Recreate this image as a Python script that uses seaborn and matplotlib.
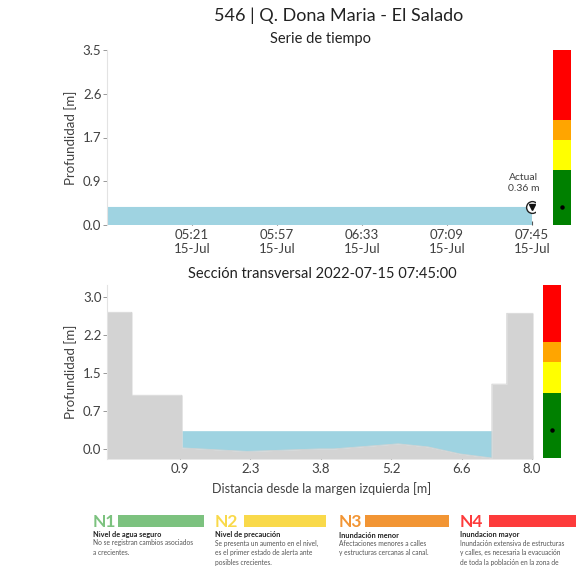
"""Station depth dashboard: time series + cross section."""

import numpy as np
import pandas as pd
import matplotlib
matplotlib.use("Agg")
import matplotlib.pyplot as plt
import matplotlib.dates as mdates
from matplotlib.patches import Rectangle
import seaborn as sns

# --- data ---------------------------------------------------------------
station_title = "546 | Q. Dona Maria - El Salado"
series_title = "Serie de tiempo"
section_title = "Sección transversal 2022-07-15 07:45:00"

times = ["2022-07-15 04:45", "2022-07-15 05:21", "2022-07-15 05:57",
         "2022-07-15 06:33", "2022-07-15 07:09", "2022-07-15 07:45"]
depths = [0.36, 0.36, 0.36, 0.36, 0.36, 0.36]
current_depth = 0.36

top_yticks = [0.0, 0.875, 1.75, 2.625, 3.5]
top_ylabels = ["0.0", "0.9", "1.7", "2.6", "3.5"]

sec_yticks = [0.0, 0.75, 1.5, 2.25, 3.0]
sec_ylabels = ["0.0", "0.7", "1.5", "2.2", "3.0"]
sec_xticks = [0.9, 2.32, 3.74, 5.16, 6.58, 8.0]
sec_xlabels = ["0.9", "2.3", "3.8", "5.2", "6.6", "8.0"]

# terrain profile (distance from left bank, elevation)
bank_x = [-0.57, -0.07, -0.07, 0.94, 0.94, 2.25, 3.72, 4.0, 5.3, 5.9,
          6.55, 7.19, 7.19, 7.49, 7.49, 8.02]
bank_z = [2.70, 2.70, 1.06, 1.06, 0.02, -0.05, 0.0, 0.0, 0.10, 0.04,
          -0.10, -0.18, 1.28, 1.28, 2.68, 2.68]
channel_left, channel_right = 0.94, 7.19

# alert thresholds
level_limits = [1.1, 1.7, 2.1]
level_colors = ["#008000", "#ffff00", "#ffa500", "#ff0000"]

legend_codes = ["N1", "N2", "N3", "N4"]
legend_colors = ["#7cc27f", "#f9d94a", "#f29534", "#fd3b3b"]
legend_titles = ["Nivel de agua seguro", "Nivel de precaución",
                 "Inundación menor", "Inundacion mayor"]
legend_texts = [
    "No se registran cambios asociados\na crecientes.",
    "Se presenta un aumento en el nivel,\nes el primer estado de alerta ante\nposibles crecientes.",
    "Afectaciones menores a calles\ny estructuras cercanas al canal.",
    "Inundación extensiva de estructuras\ny calles, es necesaria la evacuación\nde toda la población en la zona de",
]

WATER = "#9fd3e1"
GROUND = "#d3d3d3"
TEXT = "#404040"

sns.set_style("white")
plt.rcParams["font.family"] = ["Lato", "DejaVu Sans"]


def style_axes(ax):
    for side in ["top", "right", "bottom"]:
        ax.spines[side].set_visible(False)
    ax.spines["left"].set_color("#e3e3e3")
    ax.spines["left"].set_linewidth(0.8)
    ax.tick_params(axis="y", which="both", left=True, length=3, width=0.6,
                   color="#888888", labelsize=9.5, labelcolor=TEXT, pad=1)
    ax.tick_params(axis="x", which="both", bottom=True, direction="in",
                   length=3, width=0.8, color="#555555", labelsize=9.5,
                   labelcolor=TEXT, pad=3)


def draw_levels(ax, ymin, ymax, value):
    bounds = [ymin] + level_limits + [ymax]
    heights = np.diff(bounds)
    ax.bar([0] * 4, heights, bottom=bounds[:-1], width=1.0,
           color=level_colors, linewidth=0)
    ax.plot([0], [value], "o", color="black", markersize=2.2)
    ax.set_xlim(-0.5, 0.5)
    ax.set_ylim(ymin, ymax)
    ax.axis("off")


fig = plt.figure(figsize=(5.76, 5.69), dpi=100)
W, H = 576.0, 569.0

fig.text(339 / W, 1 - 16 / H, station_title, ha="center", va="center",
         fontsize=13, color="#222222")

# --- time series --------------------------------------------------------
ax1 = fig.add_axes([107 / W, 1 - 225 / H, 428 / W, 175 / H])
df = pd.DataFrame({"time": pd.to_datetime(times), "depth": depths})
ax1.fill_between(df["time"], 0, df["depth"], color=WATER, linewidth=0)
sns.lineplot(data=df, x="time", y="depth", ax=ax1, color=WATER, linewidth=0.8)

t_now = df["time"].iloc[-1]
ax1.plot([t_now], [current_depth], "o", markersize=8.5,
         markerfacecolor="white", markeredgecolor="#222222",
         markeredgewidth=1.0, zorder=5)
ax1.plot([t_now], [current_depth], "v", markersize=4.2, color="#111111",
         zorder=6)
ax1.annotate(f"Actual\n{current_depth:.2f} m", (t_now, current_depth),
             xytext=(-6, 10), textcoords="offset points", ha="center",
             va="bottom", fontsize=7.5, color=TEXT, linespacing=1.3)

ax1.set_ylim(0, 3.5)
ax1.set_xlim(df["time"].iloc[0], t_now + pd.Timedelta(minutes=1.3))
ax1.set_yticks(top_yticks)
ax1.set_yticklabels(top_ylabels)
ax1.set_xticks(df["time"].iloc[1:])
ax1.xaxis.set_major_formatter(mdates.DateFormatter("%H:%M\n%d-%b"))
ax1.set_xlabel("")
ax1.set_ylabel("Profundidad [m]", fontsize=9.5, color=TEXT, labelpad=4)
ax1.set_title(series_title, fontsize=10.5, color="#222222", pad=5)
style_axes(ax1)

lv1 = fig.add_axes([553 / W, 1 - 225 / H, 18 / W, 175 / H])
draw_levels(lv1, 0, 3.5, current_depth)

# --- cross section ------------------------------------------------------
ymin_sec, ymax_sec = -0.2, 3.24
ax2 = fig.add_axes([107 / W, 1 - 459 / H, 430 / W, 174 / H])
bx = np.array(bank_x)
bz = np.array(bank_z)
in_channel = (bx >= channel_left) & (bx <= channel_right) & (bz < current_depth)
ax2.fill_between(bx, bz, current_depth, where=in_channel, color=WATER,
                 linewidth=0)
ax2.fill_between(bx, ymin_sec, bz, color=GROUND, linewidth=0)
sns.lineplot(x=bank_x, y=bank_z, ax=ax2, sort=False, estimator=None,
             color=GROUND, linewidth=0.6)

ax2.set_xlim(-0.57, 8.1)
ax2.set_ylim(ymin_sec, ymax_sec)
ax2.set_yticks(sec_yticks)
ax2.set_yticklabels(sec_ylabels)
ax2.set_xticks(sec_xticks)
ax2.set_xticklabels(sec_xlabels)
ax2.set_xlabel("Distancia desde la margen izquierda [m]", fontsize=9,
               color=TEXT, labelpad=5)
ax2.set_ylabel("Profundidad [m]", fontsize=9.5, color=TEXT, labelpad=4)
ax2.set_title(section_title, fontsize=10.5, color="#222222", pad=5)
style_axes(ax2)

lv2 = fig.add_axes([543 / W, 1 - 458 / H, 18 / W, 173 / H])
draw_levels(lv2, ymin_sec, ymax_sec, current_depth)

# --- alert legend -------------------------------------------------------
panel_x = [93, 215, 339, 460]
bar_x = [118, 244, 365, 489]
bar_w = [86, 82, 84, 95]
for i in range(4):
    x0 = panel_x[i] / W
    fig.text(x0, 1 - 522 / H, legend_codes[i], ha="left", va="center",
             fontsize=12.5, fontweight="bold", color=legend_colors[i])
    fig.add_artist(Rectangle((bar_x[i] / W, 1 - 527 / H), bar_w[i] / W,
                             12 / H, transform=fig.transFigure,
                             color=legend_colors[i], linewidth=0))
    fig.text(x0, 1 - 535 / H, legend_titles[i], ha="left", va="center",
             fontsize=5.3, fontweight="bold", color="#222222")
    fig.text(x0, 1 - 539.5 / H, legend_texts[i], ha="left", va="top",
             fontsize=4.8, color="#555555", linespacing=1.45)

fig.savefig("out.png", dpi=100)
